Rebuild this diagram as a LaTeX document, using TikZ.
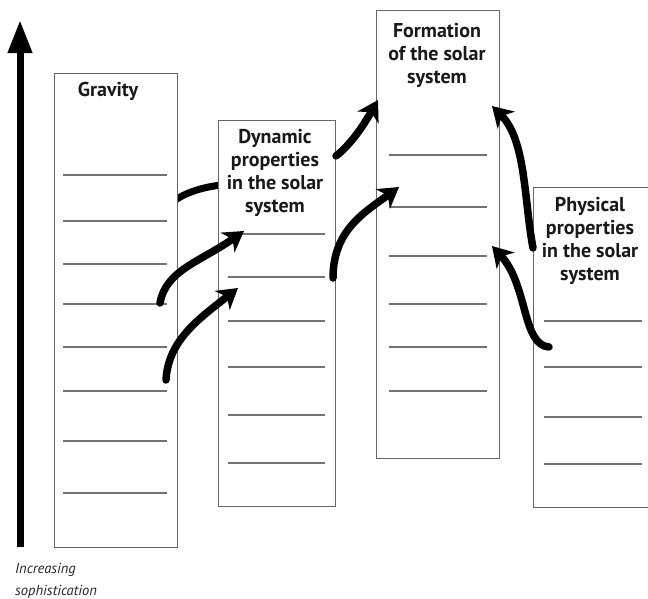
\documentclass[tikz,border=0pt]{standalone}
\usepackage{fontspec}
\setmainfont{PT Sans}
\usetikzlibrary{arrows.meta}
\tikzset{
  box/.style={draw=black!60,line width=1.1pt,fill=white},
  rule/.style={draw=black!55,line width=1.1pt},
  title/.style={font=\bfseries\fontsize{20}{23}\selectfont,align=center,text=black!90,inner sep=0pt},
  brush/.style={line width=7.5pt,black,line cap=round,
    -{Stealth[length=20pt,width=24pt,inset=6pt]}},
  brushnh/.style={line width=7pt,black,line cap=round}
}
\begin{document}
\begin{tikzpicture}[x=1pt,y=-1pt]
\useasboundingbox (0,0) rectangle (648,598);
% big axis arrow
\draw[line width=7pt,-{Triangle[length=33pt,width=23pt]}] (20,547) -- (20,20);
\node[anchor=north west,inner sep=0pt,align=left,font=\itshape\fontsize{14.5}{22}\selectfont,text=black!85] (lab) at (15,563) {Increasing\\sophistication};
% first stroke (behind dynamic box)
\coordinate (a1s) at (150,246);
\coordinate (a1e) at (232,184);
\draw[brushnh] (a1s) .. controls (152,205) and (185,187) .. (a1e);
% boxes
\node[box,minimum width=123pt,minimum height=474pt,anchor=north west] (grav) at (54,73) {};
\node[title,anchor=north] (gravt) at (108,82) {Gravity};
\foreach \y in {175,221,264,304,347,391,441,493}{\draw[rule] (63,\y) -- (167,\y);}
\node[box,minimum width=117pt,minimum height=386pt,anchor=north west] (dyn) at (218,120) {};
\node[title,anchor=north] (dynt) at (275,129) {Dynamic\\properties\\in the solar\\system};
\foreach \y in {234,277,321,367,415,463}{\draw[rule] (228,\y) -- (325,\y);}
\node[box,minimum width=123pt,minimum height=448pt,anchor=north west] (form) at (376,10) {};
\node[title,anchor=north] (formt) at (437,23) {Formation\\of the solar\\system};
\foreach \y in {155,207,256,304,347,391}{\draw[rule] (389,\y) -- (487,\y);}
\node[box,minimum width=120pt,minimum height=320pt,anchor=north west] (phys) at (533,187) {};
\node[title,anchor=north] (physt) at (590,197) {Physical\\properties\\in the solar\\system};
\foreach \y in {321,367,417,464}{\draw[rule] (544,\y) -- (642,\y);}
% brush arrows
\coordinate (a2s) at (160,303); \coordinate (a2e) at (244,231);
\coordinate (a3s) at (166,380); \coordinate (a3e) at (238,288);
\coordinate (a4s) at (336,156); \coordinate (a4e) at (378,100);
\coordinate (a5s) at (333,278); \coordinate (a5e) at (399,187);
\coordinate (a6s) at (549,347); \coordinate (a6e) at (492,246);
\coordinate (a7s) at (533,248); \coordinate (a7e) at (492,106);
\draw[brush] (a2s) .. controls (166,270) and (200,262) .. (a2e);
\draw[brush] (a3s) .. controls (168,340) and (200,318) .. (a3e);
\draw[brush] (a4s) .. controls (350,145) and (362,128) .. (a4e);
\draw[brush] (a5s) .. controls (333,230) and (365,212) .. (a5e);
\draw[brush] (a6s) .. controls (522,345) and (528,285) .. (a6e);
\draw[brush] (a7s) .. controls (524,200) and (526,140) .. (a7e);
\end{tikzpicture}
\end{document}
